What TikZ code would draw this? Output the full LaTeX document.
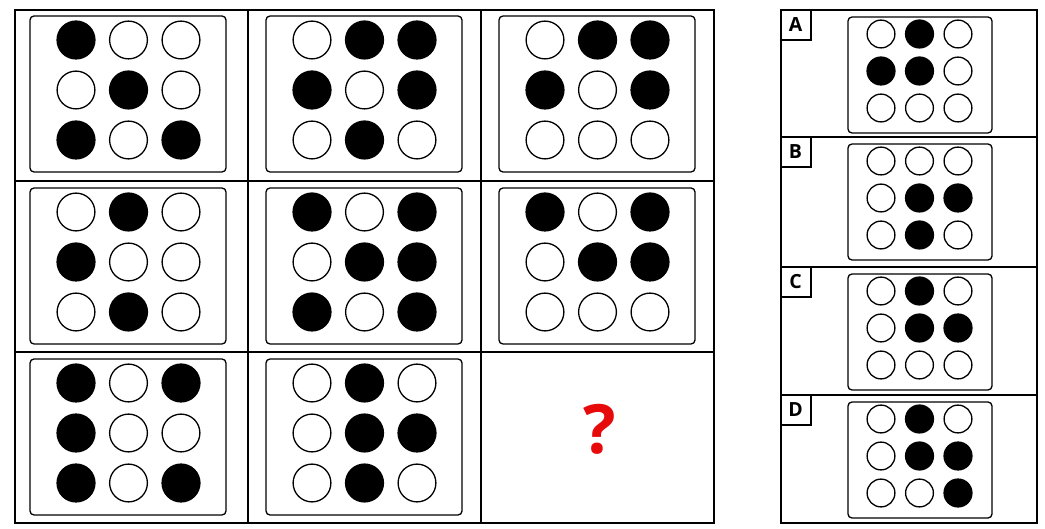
\documentclass[tikz,border=0pt]{standalone}
\usepackage{fontspec}
\setmainfont{Open Sans}
\definecolor{qred}{RGB}{230,10,10}
\tikzset{
  frame/.style={line width=2pt},
  pbox/.style={line width=1.3pt, rounded corners=4pt},
  ring/.style={line width=1.3pt},
  lblbox/.style={line width=1.6pt},
  lbl/.style={font=\bfseries\fontsize{19.5}{19.5}\selectfont, inner sep=0pt},
}
\newcommand{\bigpanel}[3]{%
  \draw[pbox] (#1,#2) rectangle ++(196,156);
  \foreach \v [count=\i from 0] in {#3} {
    \pgfmathsetmacro\cx{#1+46+52.5*mod(\i,3)}
    \pgfmathsetmacro\cy{#2+24+50*floor(\i/3)}
    \ifnum\v=1 \fill (\cx,\cy) circle (19.6pt); \else \draw[ring] (\cx,\cy) circle (18.9pt); \fi
  }}
\newcommand{\optpanel}[3]{% row top, letter, pattern
  \draw[lblbox] (781,#1) rectangle (811,#1+30);
  \node[lbl] at (795.5,#1+15) {#2};
  \draw[pbox] (848,#1+7) rectangle (992,#1+123);
  \foreach \v [count=\i from 0] in {#3} {
    \pgfmathsetmacro\cx{881+38.5*mod(\i,3)}
    \pgfmathsetmacro\cy{#1+24+37*floor(\i/3)}
    \ifnum\v=1 \fill (\cx,\cy) circle (14.6pt); \else \draw[ring] (\cx,\cy) circle (13.9pt); \fi
  }}
\begin{document}
\begin{tikzpicture}[x=1pt,y=-1pt]
\useasboundingbox (0,0) rectangle (1045,529);
\fill[white] (0,0) rectangle (1045,529);
% left grid
\draw[frame] (15,10) rectangle (714,523);
\draw[frame] (248,10) -- (248,523);
\draw[frame] (481,10) -- (481,523);
\draw[frame] (15,181) -- (714,181);
\draw[frame] (15,352) -- (714,352);
% row 1
\bigpanel{30}{16}{1,0,0,0,1,0,1,0,1}
\bigpanel{266}{16}{0,1,1,1,0,1,0,1,0}
\bigpanel{499}{16}{0,1,1,1,0,1,0,0,0}
% row 2
\bigpanel{30}{188}{0,1,0,1,0,0,0,1,0}
\bigpanel{266}{188}{1,0,1,0,1,1,1,0,1}
\bigpanel{499}{188}{1,0,1,0,1,1,0,0,0}
% row 3
\bigpanel{30}{359}{1,0,1,1,0,0,1,0,1}
\bigpanel{266}{359}{0,1,0,0,1,1,0,1,0}
\node[text=qred, font=\bfseries\fontsize{68}{68}\selectfont, inner sep=0pt] (q) at (600,429) {?};
% options
\draw[frame] (781,10) rectangle (1037,523);
\draw[frame] (781,137) -- (1037,137);
\draw[frame] (781,267) -- (1037,267);
\draw[frame] (781,395) -- (1037,395);
\optpanel{10}{A}{0,1,0,1,1,0,0,0,0}
\optpanel{137}{B}{0,0,0,0,1,1,0,1,0}
\optpanel{267}{C}{0,1,0,0,1,1,0,0,0}
\optpanel{395}{D}{0,1,0,0,1,1,0,0,1}
\end{tikzpicture}
\end{document}
